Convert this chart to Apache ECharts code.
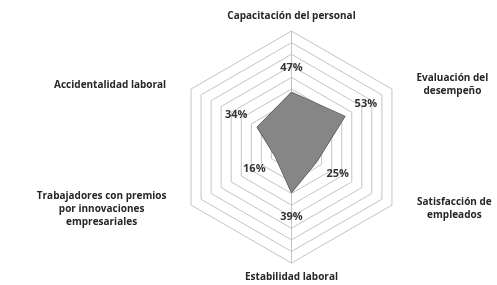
<!DOCTYPE html>
<html><head><meta charset="utf-8">
<script src="https://cdn.jsdelivr.net/npm/echarts@6/dist/echarts.min.js"></script>
<style>html,body{margin:0;padding:0;background:#fff}#c{width:497px;height:285px}</style>
</head><body><div id="c"></div>
<script>
// Indicators in ECharts order (top, then counter-clockwise)
const categories = [
  'Capacitación del personal',
  'Accidentalidad laboral',
  'Trabajadores con premios\npor innovaciones\nempresariales',
  'Estabilidad laboral',
  'Satisfacción de\nempleados',
  'Evaluación del\ndesempeño'
];
const values = [47, 34, 16, 39, 25, 53];
const axisMax = 100;
const labelOffset = 21; // label placed outward from each vertex (in value units)

const nameKey = {};
nameKey[categories[1]] = 'acc';
nameKey[categories[2]] = 'tra';
nameKey[categories[4]] = 'sat';
nameKey[categories[5]] = 'eva';

const FONT = 'Open Sans';
const nameBase = {fontFamily: FONT, fontWeight: 'bold', fontSize: 10, color: '#262626', lineHeight: 13, align: 'center'};

const center = ['58.65%', '51.6%'];
const radius = 116;

const chart = echarts.init(document.getElementById('c'), null, {renderer: 'canvas'});
chart.setOption({
  backgroundColor: '#fff',
  animation: false,
  radar: [{
    center: center, radius: radius, startAngle: 90, shape: 'polygon', splitNumber: 10,
    indicator: categories.map(n => ({name: n, max: axisMax, min: 0})),
    nameGap: 8,
    axisName: {
      fontFamily: FONT, fontWeight: 'bold', fontSize: 10, color: '#262626', lineHeight: 13,
      formatter: function (name) {
        const k = nameKey[name] || 'plain';
        return name.split('\n').map(l => '{' + k + '|' + l + '}').join('\n');
      },
      rich: {
        plain: Object.assign({}, nameBase),
        acc: Object.assign({}, nameBase, {width: 148}),
        tra: Object.assign({}, nameBase, {width: 165}),
        eva: Object.assign({}, nameBase, {width: 107}),
        sat: Object.assign({}, nameBase, {width: 111})
      }
    },
    axisLine: {show: false},
    axisTick: {show: false},
    axisLabel: {show: false},
    splitLine: {lineStyle: {color: '#c4c4c4', width: 1}},
    splitArea: {show: false}
  }, {
    center: center, radius: radius, startAngle: 90, shape: 'polygon', splitNumber: 10,
    indicator: [{name: '', max: axisMax}, {name: '', max: axisMax}],
    axisName: {show: false},
    axisLine: {lineStyle: {color: '#c4c4c4', width: 1}},
    axisTick: {show: false},
    axisLabel: {show: false},
    splitLine: {show: false},
    splitArea: {show: false}
  }],
  series: [{
    type: 'radar', radarIndex: 0, symbol: 'none', z: 2,
    lineStyle: {color: '#5c5c5c', width: 1.5},
    areaStyle: {color: '#868686', opacity: 1},
    data: [{value: values}]
  }, {
    type: 'radar', radarIndex: 0, symbol: 'circle', symbolSize: 1, z: 3,
    itemStyle: {color: 'rgba(0,0,0,0)'},
    lineStyle: {width: 0, opacity: 0},
    silent: true,
    label: {
      show: true, position: 'inside',
      fontFamily: FONT, fontWeight: 'bold', fontSize: 11, color: '#333',
      formatter: p => Math.round(p.value - labelOffset) + '%'
    },
    data: [{value: values.map(v => v + labelOffset)}]
  }]
});
</script>
</body></html>
